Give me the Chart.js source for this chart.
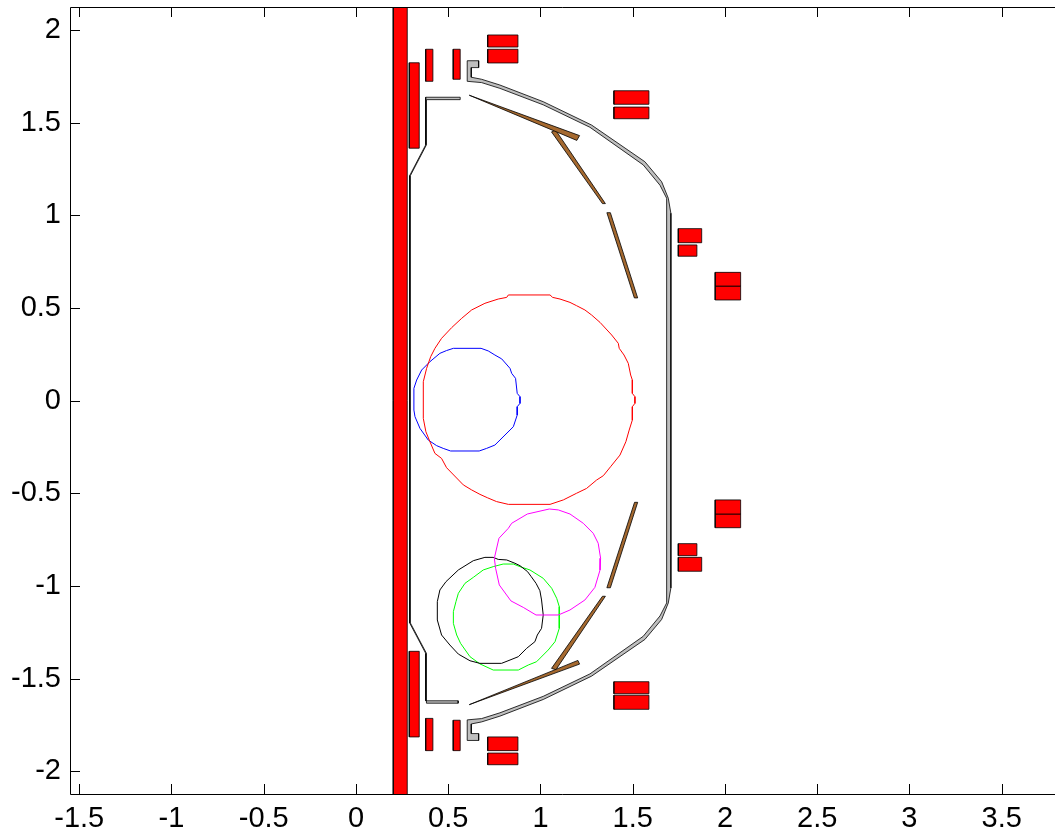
<!DOCTYPE html>
<html><head><meta charset="utf-8">
<style>html,body{margin:0;padding:0;background:#fff;overflow:hidden}canvas{display:block}</style>
<script src="https://cdn.jsdelivr.net/npm/chart.js@4"></script>
</head><body><canvas id="c" width="1055" height="833"></canvas>
<script>
const xTicks=[-1.5,-1,-0.5,0,0.5,1,1.5,2,2.5,3,3.5];
const yTicks=[-2,-1.5,-1,-0.5,0,0.5,1,1.5,2];
const xRange=[-1.550,3.789];
const yRange=[-2.123,2.124];

// coils: [xLeft,xRight,yBottom,yTop]
const coils=[
[0.202,0.278,-2.3,2.3],
[0.289,0.343,1.362,1.823],[0.378,0.417,1.723,1.896],[0.527,0.565,1.734,1.896],
[0.714,0.878,1.908,1.973],[0.714,0.878,1.822,1.896],
[1.398,1.588,1.599,1.672],[1.398,1.588,1.521,1.584],
[1.747,1.874,0.852,0.928],[1.747,1.848,0.779,0.840],
[1.947,2.085,0.618,0.692],[1.947,2.085,0.543,0.618],
[1.947,2.085,-0.612,-0.536],[1.947,2.085,-0.686,-0.612],
[1.747,1.848,-0.837,-0.772],[1.747,1.874,-0.921,-0.846],
[1.398,1.588,-1.582,-1.517],[1.398,1.588,-1.666,-1.590],
[0.289,0.343,-1.815,-1.353],[0.378,0.417,-1.889,-1.715],[0.527,0.565,-1.889,-1.725],
[0.714,0.878,-1.889,-1.815],[0.714,0.878,-1.965,-1.902]
];
const vessel=[[.603,1.834],[.665,1.834],[.665,1.797],[.625,1.797],[.625,1.745],[.681,1.734],[.780,1.703],[1.015,1.613],[1.277,1.487],[1.566,1.289],[1.657,1.181],[1.693,1.092],[1.707,1.011],
[1.707,-1.011],[1.693,-1.092],[1.657,-1.181],[1.566,-1.289],[1.277,-1.487],[1.015,-1.613],[.780,-1.703],[.681,-1.734],[.625,-1.745],[.625,-1.797],[.665,-1.797],[.665,-1.834],[.603,-1.834],
[.603,-1.723],[.681,-1.716],[.780,-1.685],[1.015,-1.596],[1.268,-1.475],[1.557,-1.272],[1.648,-1.162],[1.684,-1.092],
[1.684,1.092],[1.648,1.162],[1.557,1.272],[1.268,1.475],[1.015,1.596],[.780,1.685],[.681,1.716],[.603,1.723],[.603,1.834]];
const innerWall=[[.565,1.637],[.378,1.637],[.378,1.380],[.291,1.214],[.291,-1.200],[.378,-1.364],[.378,-1.620],[.554,-1.620],[.554,-1.633],[.382,-1.633],[.382,-1.620],[.382,-1.364],[.295,-1.200],[.295,1.214],[.382,1.380],[.382,1.624],[.565,1.624],[.565,1.637]];
const plates=[
[[.614,1.648],[1.212,1.430],[1.197,1.404],[.614,1.648]],
[[1.060,1.450],[1.082,1.460],[1.352,1.063],[1.336,1.063],[1.060,1.450]],
[[1.360,1.014],[1.379,1.014],[1.527,.554],[1.509,.554],[1.360,1.014]],
[[1.510,-.549],[1.527,-.549],[1.379,-1.010],[1.360,-1.010],[1.510,-.549]],
[[1.336,-1.056],[1.352,-1.056],[1.084,-1.452],[1.060,-1.445],[1.336,-1.056]],
[[.614,-1.641],[1.203,-1.402],[1.212,-1.422],[.614,-1.641]]
];
const redContour=[[.826,.570],[1.052,.570],[1.066,.557],[1.106,.548],[1.160,.530],[1.196,.512],[1.241,.489],[1.277,.462],[1.323,.422],[1.386,.354],[1.422,.309],[1.427,.282],[1.453,.246],[1.476,.201],[1.489,.138],[1.498,.111],[1.498,.039],[1.512,.021],[1.512,-.015],[1.498,-.033],[1.498,-.105],[1.481,-.159],[1.463,-.222],[1.431,-.294],[1.380,-.357],[1.341,-.405],[1.304,-.429],[1.250,-.474],[1.196,-.500],[1.124,-.536],[1.052,-.560],[.826,-.560],[.762,-.545],[.712,-.524],[.672,-.506],[.627,-.482],[.582,-.455],[.491,-.362],[.464,-.312],[.428,-.285],[.401,-.222],[.379,-.168],[.365,-.096],[.365,.102],[.383,.174],[.405,.237],[.428,.282],[.464,.336],[.519,.394],[.573,.444],[.627,.489],[.699,.525],[.771,.548],[.817,.557],[.826,.570]];
const blueContour=[[.528,.282],[.678,.282],[.717,.268],[.753,.246],[.790,.225],[.835,.174],[.844,.147],[.865,.120],[.874,.039],[.889,.021],[.889,-.015],[.874,-.033],[.874,-.078],[.853,-.141],[.753,-.240],[.708,-.258],[.668,-.272],[.513,-.272],[.473,-.258],[.437,-.243],[.392,-.213],[.347,-.150],[.320,-.087],[.314,-.051],[.314,.066],[.329,.111],[.356,.165],[.401,.210],[.455,.255],[.491,.270],[.528,.282]];
const magentaContour=[[.929,-.612],[1.048,-.585],[1.097,-.590],[1.160,-.612],[1.232,-.662],[1.286,-.716],[1.313,-.770],[1.326,-.851],[1.323,-.914],[1.295,-1.008],[1.241,-1.076],[1.160,-1.130],[1.097,-1.157],[.976,-1.157],[.907,-1.116],[.840,-1.081],[.777,-.995],[.757,-.905],[.750,-.851],[.775,-.743],[.826,-.689],[.844,-.662],[.929,-.612]];
const blackContour=[[.699,-.846],[.744,-.846],[.771,-.857],[.817,-.860],[.862,-.878],[.889,-.891],[.930,-.923],[.950,-.950],[.976,-.986],[.997,-1.026],[1.006,-1.076],[1.015,-1.157],[1.006,-1.229],[.983,-1.265],[.970,-1.301],[.925,-1.337],[.880,-1.382],[.835,-1.400],[.789,-1.418],[.672,-1.418],[.618,-1.404],[.555,-1.368],[.509,-1.319],[.464,-1.265],[.441,-1.184],[.441,-1.085],[.455,-1.022],[.488,-.977],[.555,-.914],[.636,-.864],[.699,-.846]];
const greenContour=[[.798,-.882],[.853,-.882],[.889,-.896],[.943,-.914],[1.015,-.959],[1.061,-1.013],[1.088,-1.067],[1.102,-1.112],[1.102,-1.229],[1.079,-1.301],[1.042,-1.346],[.979,-1.409],[.934,-1.427],[.880,-1.454],[.744,-1.454],[.672,-1.421],[.618,-1.382],[.567,-1.310],[.546,-1.265],[.528,-1.202],[.528,-1.139],[.542,-1.085],[.555,-1.040],[.591,-.986],[.636,-.954],[.690,-.914],[.744,-.896],[.798,-.882]];

const pts=a=>a.map(p=>({x:p[0],y:p[1]}));
const shape=(a,fillC)=>({data:pts(a),showLine:true,borderColor:'#000',borderWidth:0.8,backgroundColor:fillC,fill:'shape',pointRadius:0,tension:0});
const curve=(a,c)=>({data:pts(a),showLine:true,borderColor:c,borderWidth:1,fill:false,pointRadius:0,tension:0});
const box=c=>[[c[0],c[2]],[c[1],c[2]],[c[1],c[3]],[c[0],c[3]],[c[0],c[2]]];

const datasets=[
 curve(redContour,'#ff0000'),curve(blueContour,'#0000ff'),
 curve(magentaContour,'#ff00ff'),curve(blackContour,'#000000'),curve(greenContour,'#00ff00'),
 ...coils.map(c=>shape(box(c),'#ff0000')),
 shape(vessel,'#bfbfbf'),shape(innerWall,'#bfbfbf'),
 ...plates.map(p=>shape(p,'#a5692f'))
];

const frame={id:'frame',afterDatasetsDraw(ch){
 const {ctx,chartArea:a,scales:{x,y}}=ch,L=10;
 ctx.save();ctx.strokeStyle='#000';ctx.lineWidth=1;ctx.beginPath();
 const h=v=>Math.round(v)+.5;
 ctx.moveTo(h(a.left),h(a.top));ctx.lineTo(a.right,h(a.top));
 ctx.moveTo(h(a.left),h(a.top));ctx.lineTo(h(a.left),h(a.bottom));
 ctx.moveTo(h(a.left),h(a.bottom));ctx.lineTo(a.right,h(a.bottom));
 xTicks.forEach(t=>{const p=h(x.getPixelForValue(t));
  ctx.moveTo(p,a.top);ctx.lineTo(p,a.top+L);ctx.moveTo(p,a.bottom);ctx.lineTo(p,a.bottom-L);});
 yTicks.forEach(t=>{const p=h(y.getPixelForValue(t));
  ctx.moveTo(a.left,p);ctx.lineTo(a.left+L,p);});
 ctx.stroke();ctx.restore();
}};
const font={family:'"Liberation Sans",Arial,sans-serif',size:29};
new Chart(document.getElementById('c'),{
 type:'scatter',
 data:{datasets},
 plugins:[frame],
 options:{
  responsive:false,animation:false,
  layout:{padding:{top:7,right:0,left:0,bottom:0}},
  plugins:{legend:{display:false},tooltip:{enabled:false},title:{display:false}},
  scales:{
   x:{type:'linear',min:xRange[0],max:xRange[1],
    afterBuildTicks:s=>{s.ticks=xTicks.map(v=>({value:v}));},
    afterFit:s=>{s.height=39;s.paddingLeft=0;s.paddingRight=0;},
    grid:{display:false,drawTicks:false},border:{display:false},
    ticks:{color:'#000',font,padding:8,maxRotation:0,autoSkip:false,callback:v=>String(v)}},
   y:{type:'linear',min:yRange[0],max:yRange[1],
    afterBuildTicks:s=>{s.ticks=yTicks.map(v=>({value:v}));},
    afterFit:s=>{s.width=70;s.paddingTop=0;s.paddingBottom=0;},
    grid:{display:false,drawTicks:false},border:{display:false},
    ticks:{color:'#000',font,padding:9,autoSkip:false,callback:v=>String(v)}}
  }
 }
});
</script></body></html>
